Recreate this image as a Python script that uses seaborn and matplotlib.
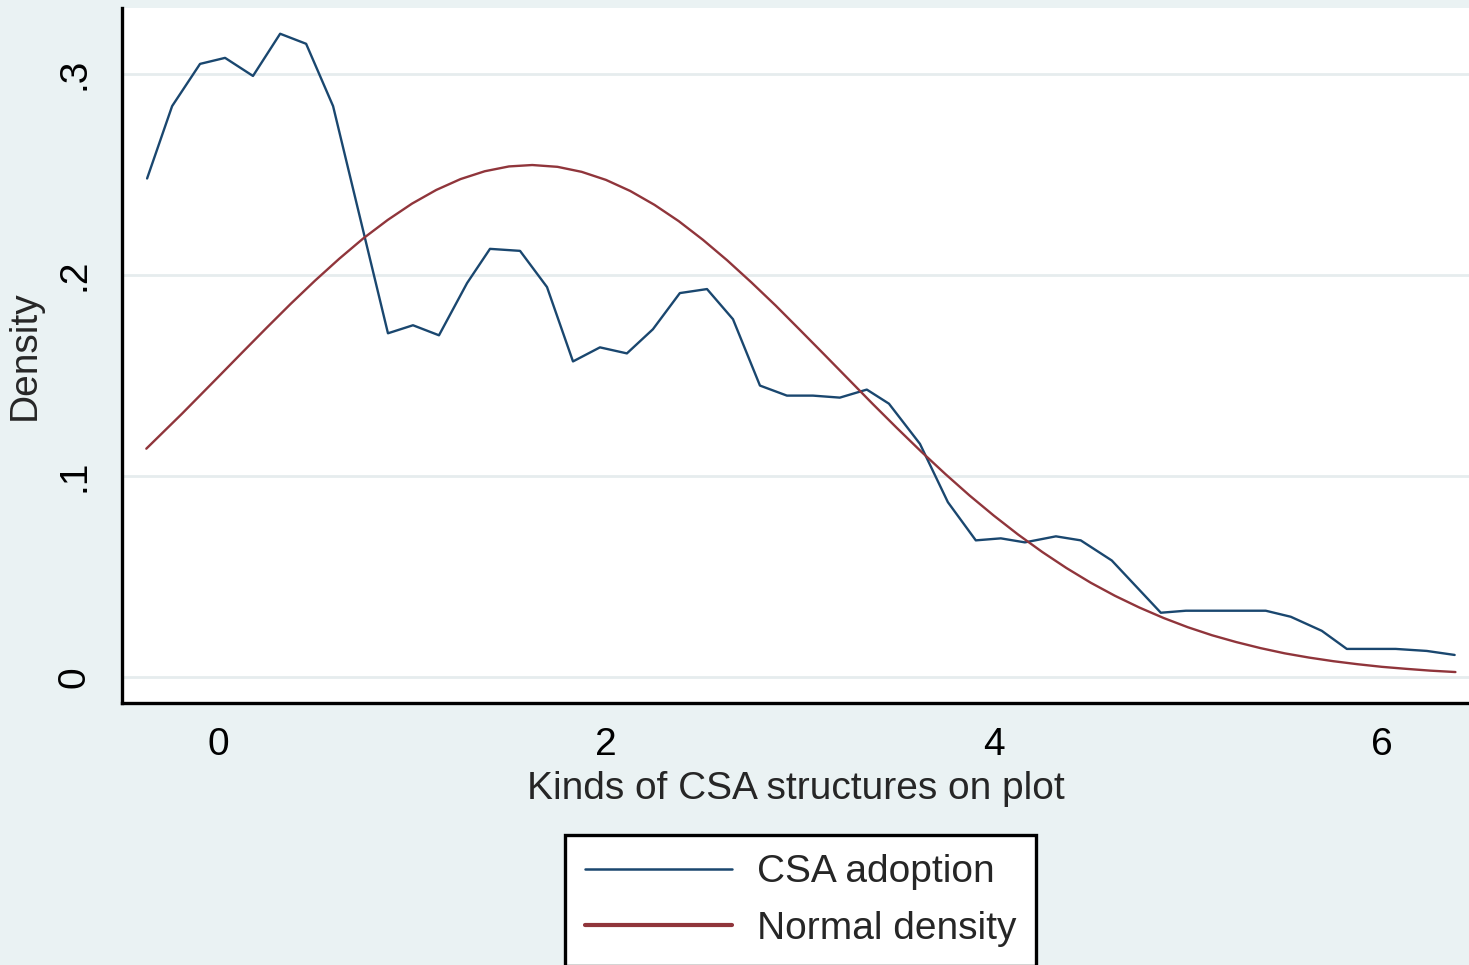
import matplotlib
matplotlib.use("Agg")
import matplotlib.pyplot as plt
import seaborn as sns

# kernel density estimate of the number of CSA structures
kde_x = [-0.366, -0.237, -0.093, 0.036, 0.180, 0.320, 0.454, 0.593, 0.876, 1.005,
         1.139, 1.284, 1.402, 1.557, 1.696, 1.830, 1.969, 2.108, 2.242, 2.381,
         2.521, 2.655, 2.794, 2.933, 3.067, 3.206, 3.345, 3.459, 3.619, 3.763,
         3.907, 4.036, 4.160, 4.320, 4.448, 4.608, 4.861, 4.990, 5.180, 5.402,
         5.531, 5.691, 5.820, 6.072, 6.232, 6.376]
kde_y = [0.248, 0.284, 0.305, 0.308, 0.299, 0.320, 0.315, 0.284, 0.171, 0.175,
         0.170, 0.196, 0.213, 0.212, 0.194, 0.157, 0.164, 0.161, 0.173, 0.191,
         0.193, 0.178, 0.145, 0.140, 0.140, 0.139, 0.143, 0.136, 0.116, 0.087,
         0.068, 0.069, 0.067, 0.070, 0.068, 0.058, 0.032, 0.033, 0.033, 0.033,
         0.030, 0.023, 0.014, 0.014, 0.013, 0.011]

# overlaid normal density
norm_x = [-0.37, -0.185, 0.0, 0.125, 0.25, 0.375, 0.5, 0.625, 0.75, 0.875, 1.0,
          1.125, 1.25, 1.375, 1.5, 1.62, 1.75, 1.875, 2.0, 2.125, 2.25, 2.375,
          2.5, 2.625, 2.75, 2.875, 3.0, 3.125, 3.25, 3.375, 3.5, 3.625, 3.75,
          3.875, 4.0, 4.125, 4.25, 4.375, 4.5, 4.625, 4.75, 4.875, 5.0, 5.125,
          5.25, 5.375, 5.5, 5.625, 5.75, 5.875, 6.0, 6.125, 6.25, 6.38]
norm_y = [0.1136, 0.1311, 0.1492, 0.1615, 0.1737, 0.1857, 0.1972, 0.2081, 0.2183,
          0.2274, 0.2355, 0.2423, 0.2477, 0.2516, 0.2540, 0.2547, 0.2538, 0.2513,
          0.2473, 0.2418, 0.2349, 0.2268, 0.2175, 0.2073, 0.1963, 0.1848, 0.1727,
          0.1605, 0.1482, 0.1359, 0.1239, 0.1122, 0.1010, 0.0903, 0.0803, 0.0709,
          0.0622, 0.0542, 0.0469, 0.0404, 0.0346, 0.0294, 0.0248, 0.0208, 0.0174,
          0.0144, 0.0118, 0.0097, 0.0079, 0.0064, 0.0051, 0.0041, 0.0032, 0.0025]

x_ticks = [0, 2, 4, 6]
y_ticks = [0, 0.1, 0.2, 0.3]
y_tick_labels = ["0", ".1", ".2", ".3"]

BG = "#eaf2f3"
BLUE = "#1a476f"
RED = "#90353b"

sns.set_theme(style="white")
plt.rcParams["font.family"] = ["Liberation Sans", "DejaVu Sans"]

fig = plt.figure(figsize=(14.69, 9.65), dpi=100, facecolor=BG)
ax = fig.add_axes([0.0831, 0.2715, 0.9169, 0.7202])
ax.set_facecolor("white")

sns.lineplot(x=kde_x, y=kde_y, ax=ax, color=BLUE, linewidth=1.7, label="CSA adoption")
sns.lineplot(x=norm_x, y=norm_y, ax=ax, color=RED, linewidth=1.7, label="Normal density")

ax.set_xlim(-0.495, 6.45)
ax.set_ylim(-0.0129, 0.3328)
ax.set_xticks(x_ticks)
ax.set_xticklabels([str(t) for t in x_ticks])
ax.set_yticks(y_ticks)
ax.set_yticklabels(y_tick_labels, rotation=90, va="center")

ax.yaxis.grid(True, color="#e6ecee", linewidth=2)
ax.xaxis.grid(False)
ax.set_axisbelow(True)

for side in ["top", "right"]:
    ax.spines[side].set_visible(False)
for side in ["left", "bottom"]:
    ax.spines[side].set_color("black")
    ax.spines[side].set_linewidth(2.4)

ax.tick_params(axis="both", direction="out", length=12, width=1.8,
               color="black", labelcolor="black", labelsize=28)
ax.tick_params(axis="y", pad=9)
ax.tick_params(axis="x", pad=5)

ax.set_xlabel("Kinds of CSA structures on plot", fontsize=28, labelpad=6)
ax.set_ylabel("Density", fontsize=28, labelpad=10)

handles, labels = ax.get_legend_handles_labels()
ax.get_legend().remove()
leg = fig.legend(handles, labels, loc="upper center", bbox_to_anchor=(0.545, 0.1347),
                 frameon=True, fancybox=False, edgecolor="black", facecolor="white",
                 framealpha=1, fontsize=28, handlelength=3.8, handletextpad=0.64,
                 borderpad=0.5, labelspacing=0.52, borderaxespad=0)
leg.get_frame().set_linewidth(2.4)
for line, lw in zip(leg.get_lines(), [1.8, 3.0]):
    line.set_linewidth(lw)

fig.savefig("out.png", dpi=100, facecolor=BG)
